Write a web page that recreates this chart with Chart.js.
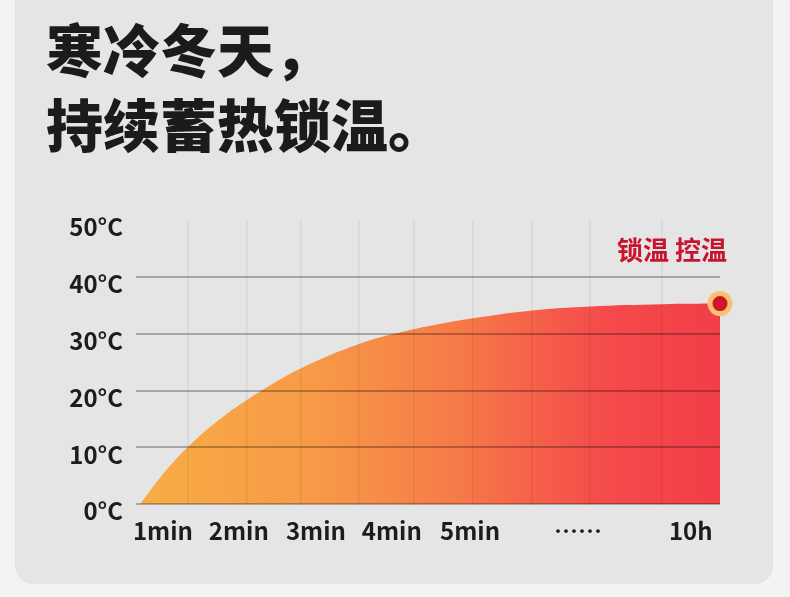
<!DOCTYPE html>
<html>
<head>
<meta charset="utf-8">
<script src="https://cdn.jsdelivr.net/npm/chart.js@4"></script>
<style>
  html, body { margin: 0; padding: 0; }
  body { width: 790px; height: 597px; background: #f3f3f3; position: relative; overflow: hidden; font-family: "Noto Sans CJK SC", sans-serif; }
  .card { position: absolute; left: 15px; top: -30px; width: 758px; height: 614px; background: #e6e5e5; border-radius: 18px; }
  .title { position: absolute; left: 46px; top: 10px; margin: 0; font-size: 57px; line-height: 75px; font-weight: 900; color: #1b1b1b; letter-spacing: 0; }
  .chart-box { position: absolute; left: 0; top: 190px; width: 790px; height: 380px; }
</style>
</head>
<body>
<div class="card"></div>
<h1 class="title">寒冷冬天，<br>持续蓄热锁温。</h1>
<div class="chart-box"><canvas id="heat-chart"></canvas></div>
<script>
// Data
const xLabels = ['1min', '2min', '3min', '4min', '5min', '……', '10h'];
const xLabelAt = [4.6, 17.6, 30.8, 43.8, 57.2, 75.7, 95.0];
const gridAt = [8.8, 19.0, 28.2, 38.2, 47.6, 57.7, 67.8, 77.7, 90.1];
const sampleAt = [0.7, 4.7, 8.8, 14.4, 21.5, 28.2, 38.2, 45.9, 57.7, 67.8, 77.7, 90.1, 100];
const temps = [0, 5.4, 10, 15.0, 20, 23.9, 28.2, 30.4, 32.7, 34.1, 34.8, 35.2, 35.3];
const yMin = 0, yMax = 50, yStep = 10;
const tagText = '锁温 控温';
const tagAt = 44.7;

const points = sampleAt.map((x, i) => ({ x: x, y: temps[i] }));
const lastIndex = points.length - 1;

// Orange to red fill across the plot
const fillGradient = ctx => {
    const area = ctx.chart.chartArea;
    if (!area) return '#f67c47';
    const g = ctx.chart.ctx.createLinearGradient(area.left, 0, area.right, 0);
    g.addColorStop(0, '#f8ad45');
    g.addColorStop(0.3, '#f79a47');
    g.addColorStop(0.55, '#f67a48');
    g.addColorStop(0.8, '#f44b4b');
    g.addColorStop(1, '#f23e48');
    return g;
};

// red tag above the end point
const tagLabel = {
    id: 'tagLabel',
    afterDatasetsDraw(chart) {
        const { ctx, chartArea, scales } = chart;
        ctx.save();
        ctx.font = 'bold 26px "Noto Sans CJK SC"';
        ctx.fillStyle = '#c8142f';
        ctx.textAlign = 'right';
        ctx.textBaseline = 'middle';
        ctx.fillText(tagText, chartArea.right + 7, scales.y.getPixelForValue(tagAt));
        ctx.restore();
    }
};

const tickFont = { family: '"Noto Sans CJK SC"', size: 24, weight: 'bold' };

const heatCanvas = document.getElementById('heat-chart');
let heatChart = new Chart(heatCanvas, {
    type: 'line',
    data: {
        datasets: [{
            data: points,
            fill: 'origin',
            backgroundColor: fillGradient,
            borderWidth: 0,
            borderColor: 'rgba(0,0,0,0)',
            tension: 0.4,
            pointRadius: ctx => ctx.dataIndex === lastIndex ? 10 : 0,
            pointHoverRadius: 0,
            pointBackgroundColor: '#d0152e',
            pointBorderColor: '#f7c170',
            pointBorderWidth: 5,
            clip: false
        }]
    },
    options: {
        responsive: true,
        maintainAspectRatio: false,
        animation: false,
        layout: { padding: { top: 30, right: 70, left: 0, bottom: 0 } },
        plugins: {
            legend: { display: false },
            tooltip: { enabled: false }
        },
        scales: {
            x: {
                type: 'linear',
                min: 0,
                max: 100,
                position: 'bottom',
                afterBuildTicks: s => { s.ticks = xLabelAt.map(v => ({ value: v })); },
                afterFit: s => { s.height = 65.7; },
                grid: { display: false },
                border: { display: false },
                ticks: {
                    autoSkip: false,
                    maxRotation: 0,
                    padding: 4,
                    color: '#1c1c1c',
                    font: tickFont,
                    callback: (v, i) => xLabels[i]
                }
            },
            x2: {
                type: 'linear',
                min: 0,
                max: 100,
                position: 'top',
                afterBuildTicks: s => { s.ticks = gridAt.map(v => ({ value: v })); },
                afterFit: s => { s.height = 0; },
                grid: { color: 'rgba(0,0,0,0.06)', lineWidth: 1.5, drawTicks: false, z: 1 },
                border: { display: false },
                ticks: { display: false }
            },
            y: {
                min: yMin,
                max: yMax,
                afterFit: s => { s.width = 136; },
                grid: {
                    color: ctx => ctx.tick && ctx.tick.value === yMax ? 'rgba(0,0,0,0)' : 'rgba(0,0,0,0.27)',
                    lineWidth: 2,
                    drawTicks: false,
                    z: 1
                },
                border: { display: false },
                ticks: {
                    stepSize: yStep,
                    padding: 13,
                    labelOffset: 7,
                    color: '#1c1c1c',
                    font: tickFont,
                    callback: v => v + '°C'
                }
            }
        }
    },
    plugins: [tagLabel]
});
</script>
</body>
</html>
